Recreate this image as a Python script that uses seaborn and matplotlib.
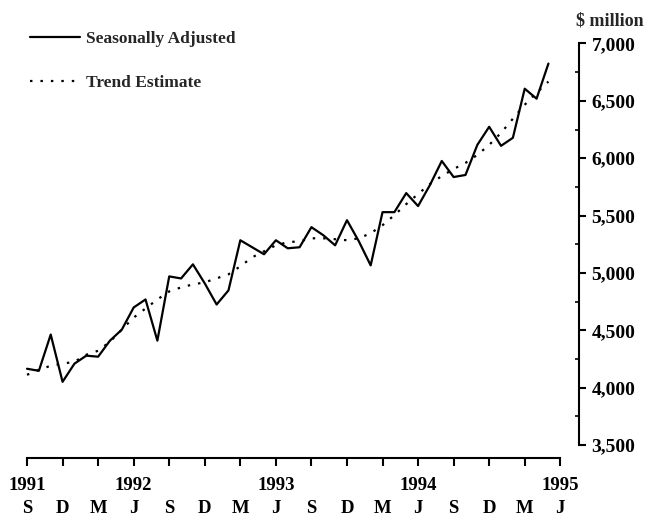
import matplotlib
matplotlib.use("Agg")
import matplotlib.pyplot as plt
import seaborn as sns
import pandas as pd
from matplotlib.ticker import FuncFormatter, MultipleLocator

# dati mensili da settembre 1991 a maggio 1995 ($ million)
seasonally_adjusted = [4165, 4147, 4463, 4051, 4209, 4279, 4270, 4410, 4506, 4699,
                       4769, 4410, 4970, 4952, 5075, 4909, 4725, 4848, 5285, 5224,
                       5163, 5285, 5215, 5224, 5399, 5329, 5241, 5460, 5276, 5066,
                       5530, 5530, 5696, 5583, 5766, 5976, 5836, 5854, 6116, 6274,
                       6108, 6178, 6606, 6519, 6825]
trend_estimate = [4112, 4156, 4191, 4209, 4226, 4287, 4322, 4401, 4506, 4611,
                  4690, 4769, 4839, 4874, 4900, 4918, 4953, 4988, 5058, 5136,
                  5189, 5241, 5268, 5276, 5302, 5302, 5294, 5285, 5302, 5346,
                  5416, 5504, 5600, 5688, 5775, 5845, 5906, 5959, 6029, 6116,
                  6221, 6344, 6466, 6571, 6668]
month_index = list(range(len(seasonally_adjusted)))

quarter_letters = ["S", "D", "M", "J"] * 4
quarter_years = ["1991", "", "", "1992", "", "", "", "1993",
                 "", "", "", "1994", "", "", "", "1995"]
quarter_pos = [3 * i for i in range(len(quarter_letters))]

df = pd.DataFrame({"mese": month_index,
                   "Seasonally Adjusted": seasonally_adjusted,
                   "Trend Estimate": trend_estimate})

sns.set_theme(style="white")
plt.rcParams["font.family"] = ["Liberation Serif", "DejaVu Serif"]
plt.rcParams["font.weight"] = "bold"

fig = plt.figure(figsize=(6.48, 5.16), dpi=100)
ax = fig.add_axes([0.0, 0.1124, 579 / 648, 0.9157 - 0.1124])

sns.lineplot(data=df, x="mese", y="Seasonally Adjusted", ax=ax, color="black",
             linewidth=1.6, label="Seasonally Adjusted")
sns.lineplot(data=df, x="mese", y="Trend Estimate", ax=ax, color="black",
             linewidth=1.6, linestyle=(0, (1.1, 3.6)), label="Trend Estimate")

ax.set_xlim(-2.28, 46.58)
ax.set_ylim(3387, 7000)

# assi: solo destra e sotto
ax.spines["left"].set_visible(False)
ax.spines["top"].set_visible(False)
ax.spines["right"].set_bounds(3500, 7000)
ax.spines["bottom"].set_bounds(0, 45)
for s in ["right", "bottom"]:
    ax.spines[s].set_color("black")
    ax.spines[s].set_linewidth(1.5)

ax.yaxis.tick_right()
ax.set_yticks(range(3500, 7001, 500))
ax.yaxis.set_minor_locator(MultipleLocator(250))
ax.yaxis.set_major_formatter(FuncFormatter(lambda v, p: f"{int(v):,}"))
ax.tick_params(axis="y", which="major", direction="out", length=5, width=1.5,
               labelsize=14, pad=4, colors="black", right=True, left=False)
ax.tick_params(axis="y", which="minor", direction="in", length=3, width=1.2,
               right=True, left=False, colors="black")

ax.set_xticks(quarter_pos)
ax.set_xticklabels([f"{y}\n{m}" for y, m in zip(quarter_years, quarter_letters)],
                   linespacing=1.4)
ax.tick_params(axis="x", direction="out", length=6, width=1.5, labelsize=13.5,
               pad=8, colors="black", bottom=True)

ax.set_xlabel("")
ax.set_ylabel("")
ax.grid(False)

fig.text(576 / 648, 1 - 21 / 516, "$ million", ha="left", va="center",
         fontsize=13, fontweight="bold")

ax.legend(loc="upper left", bbox_to_anchor=(0.022, 1 - 15 / 516), bbox_transform=fig.transFigure,
          frameon=False, handlelength=2.9, labelspacing=1.6, handletextpad=0.35,
          prop={"size": 12.5, "weight": "bold"})

fig.savefig("out.png", dpi=100)
